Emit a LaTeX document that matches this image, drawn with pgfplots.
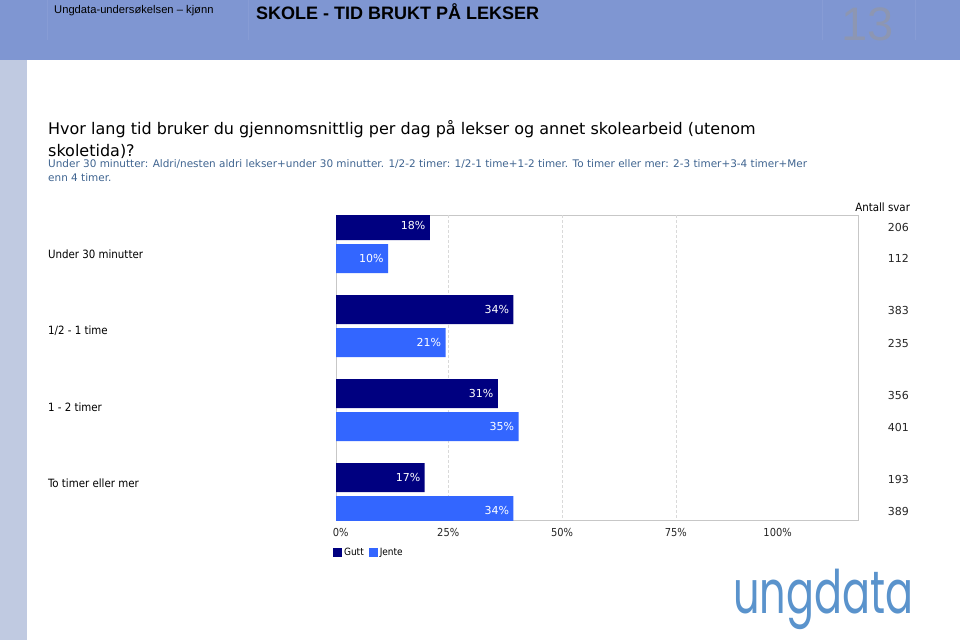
\documentclass[border=0pt]{standalone}
\usepackage{pgfplots}
\pgfplotsset{compat=1.18}
\usepackage{fontspec}
\setmainfont{DejaVu Sans}
\newfontfamily\cond{DejaVu Sans Condensed}
\newfontfamily\arial{Liberation Sans}
\newfontfamily\logofont{Poppins}
\definecolor{gutt}{HTML}{000080}
\definecolor{jente}{HTML}{3366FF}
\definecolor{band}{HTML}{7F96D2}
\definecolor{strip}{HTML}{C0CAE1}
\definecolor{subcol}{HTML}{3F6490}
\definecolor{logocol}{HTML}{5A93CC}
\definecolor{numcol}{HTML}{8D96B2}
\pgfplotsset{sqlegend/.style={legend image code/.code={\fill[##1] (0bp,-4.5bp) rectangle (9bp,4.5bp);}}}
\begin{document}
\begin{tikzpicture}
\path[use as bounding box] (0bp,0bp) rectangle (960bp,-640bp);
\fill[white] (0bp,0bp) rectangle (960bp,-640bp);
\fill[band] (0bp,0bp) rectangle (960bp,-60bp);
\fill[strip] (0bp,-60bp) rectangle (27bp,-640bp);
\foreach \xx in {47,248,822,915}{
  \draw[band!94!white, line width=1bp] (\xx bp,0bp) -- (\xx bp,-40bp);
}
\node[anchor=base west, inner sep=0pt, font=\arial\fontsize{11.2bp}{13bp}\selectfont] at (54bp,-13bp) {Ungdata-undersøkelsen – kjønn};
\node[anchor=base west, inner sep=0pt, font=\arial\bfseries\fontsize{18bp}{20bp}\selectfont] at (256bp,-19bp) {SKOLE - TID BRUKT PÅ LEKSER};
\node[anchor=base west, inner sep=0pt, text=numcol, font=\arial\fontsize{47bp}{50bp}\selectfont] at (841bp,-40bp) {13};
% question
\node[anchor=base west, inner sep=0pt, font=\fontsize{16bp}{18bp}\selectfont] at (48bp,-134bp) {Hvor lang tid bruker du gjennomsnittlig per dag på lekser og annet skolearbeid (utenom};
\node[anchor=base west, inner sep=0pt, font=\fontsize{16bp}{18bp}\selectfont] at (48bp,-156bp) {skoletida)?};
\node[anchor=base west, inner sep=0pt, text=subcol, font=\fontsize{10.45bp}{12bp}\selectfont] at (48bp,-167bp) {Under 30 minutter: Aldri/nesten aldri lekser+under 30 minutter. 1/2-2 timer: 1/2-1 time+1-2 timer. To timer eller mer: 2-3 timer+3-4 timer+Mer};
\node[anchor=base west, inner sep=0pt, text=subcol, font=\fontsize{10.45bp}{12bp}\selectfont] at (48bp,-181bp) {enn 4 timer.};
% logo
\node[anchor=base west, inner sep=0pt, text=logocol, xscale=0.69, font=\logofont\fontsize{60bp}{60bp}\selectfont] at (733bp,-613bp) {ungdata};

\begin{axis}[
  at={(336bp,-520bp)}, anchor=south west,
  scale only axis, width=522bp, height=305bp,
  xmin=0, xmax=100, ymin=215, ymax=520, y dir=reverse,
  axis line style={draw=black!22},
  ytick=\empty,
  xtick={0.9,21.5,43.3,65.1,84.6},
  xticklabels={0\%,25\%,50\%,75\%,100\%},
  major tick length=0pt,
  xticklabel style={font=\cond\fontsize{11bp}{12bp}\selectfont, text=black!85, yshift=-5bp},
  extra x ticks={21.46,43.3,65.13},
  extra x tick labels={},
  extra x tick style={grid=major, major grid style={dash pattern=on 3bp off 2bp, draw=black!15}},
  legend columns=2,
  legend style={at={(-0.006,-0.085)}, anchor=north west, draw=none, fill=none, inner sep=0pt,
    font=\cond\fontsize{10bp}{11bp}\selectfont, /tikz/every even column/.append style={column sep=3bp}},
  /pgf/number format/assume math mode=true,
  nodes near coords={\pgfmathprintnumber{\pgfplotspointmeta}\%},
  every node near coord/.append style={anchor=east, text=white, font=\fontsize{11bp}{12bp}\selectfont, xshift=-1bp},
  point meta=x,
]
\addplot[xbar, bar width=29, bar shift=0pt, fill=gutt, draw=none, sqlegend]
  coordinates {(18,225.5) (34,309.5) (31,393.5) (17,477.5)};
\addplot[xbar, bar width=29, bar shift=0pt, fill=jente, draw=none, sqlegend]
  coordinates {(10,258.5) (21,342.5) (35,426.5) (34,510.5)};
\legend{Gutt,Jente}
\end{axis}

\begin{axis}[
  at={(336bp,-520bp)}, anchor=south west,
  scale only axis, width=522bp, height=305bp,
  xmin=0, xmax=100, ymin=215, ymax=520, y dir=reverse,
  hide axis, clip=false,
]
\addplot[draw=none, mark=none, nodes near coords, point meta=explicit symbolic,
  every node near coord/.append style={anchor=east, inner sep=0pt, text=black!85, font=\fontsize{11bp}{12bp}\selectfont}]
  table[meta=n, row sep=\\] {
  x y n\\
  109.8 227 206\\
  109.8 258 112\\
  109.8 310 383\\
  109.8 343 235\\
  109.8 395 356\\
  109.8 427 401\\
  109.8 479 193\\
  109.8 511 389\\
  };
\node[anchor=east, inner sep=0pt, font=\cond\fontsize{11.4bp}{12bp}\selectfont] at (axis cs:110,207) {Antall svar};
\node[anchor=west, inner sep=0pt, font=\cond\fontsize{11.4bp}{12bp}\selectfont] at (axis cs:-55.2,254) {Under 30 minutter};
\node[anchor=west, inner sep=0pt, font=\cond\fontsize{11.4bp}{12bp}\selectfont] at (axis cs:-55.2,331) {1/2 - 1 time};
\node[anchor=west, inner sep=0pt, font=\cond\fontsize{11.4bp}{12bp}\selectfont] at (axis cs:-55.2,407) {1 - 2 timer};
\node[anchor=west, inner sep=0pt, font=\cond\fontsize{11.4bp}{12bp}\selectfont] at (axis cs:-55.2,483) {To timer eller mer};
\end{axis}
\end{tikzpicture}
\end{document}
